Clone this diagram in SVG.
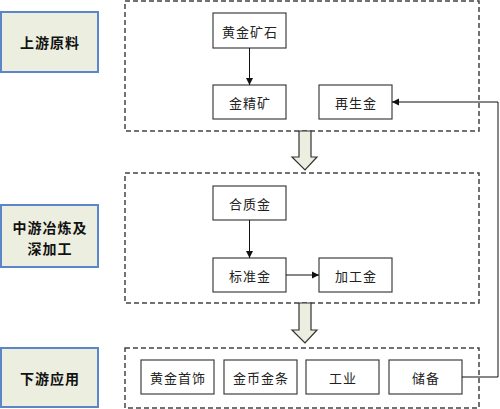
<svg xmlns="http://www.w3.org/2000/svg" width="500" height="409" viewBox="0 0 500 409">
<defs>
<style>
.stage{fill:#ECEEDF;stroke:#5B87C8;stroke-width:2}
.stxt{font-family:"Noto Sans CJK SC","Liberation Sans",sans-serif;font-size:14px;font-weight:bold;fill:#111;text-anchor:middle;dominant-baseline:central;letter-spacing:1px}
.grp{fill:none;stroke:#444;stroke-width:1.5;stroke-dasharray:5 3}
.node{fill:#fff;stroke:#404040;stroke-width:1.2}
.ntxt{font-family:"Noto Sans CJK SC","Liberation Sans",sans-serif;font-size:13px;fill:#222;text-anchor:middle;dominant-baseline:central;letter-spacing:1px}
.con{fill:none;stroke:#111;stroke-width:1}
.big{fill:#ECEEDF;stroke:#333;stroke-width:1.2}
</style>
<marker id="ah" markerWidth="8" markerHeight="8" refX="7" refY="4" orient="auto" markerUnits="userSpaceOnUse">
<path d="M0,0.5 L7,4 L0,7.5 z" fill="#111"/>
</marker>
</defs>
<rect width="500" height="409" fill="#fff"/>

<g id="stage-up"><rect class="stage" x="1" y="12" width="97" height="60"/><text class="stxt" x="50" y="42">上游原料</text></g>
<g id="stage-mid"><rect class="stage" x="1" y="205" width="97" height="62"/><text class="stxt" x="50" y="227">中游冶炼及</text><text class="stxt" x="50" y="248">深加工</text></g>
<g id="stage-down"><rect class="stage" x="1" y="348" width="97" height="59"/><text class="stxt" x="50" y="378">下游应用</text></g>

<g id="group-up"><rect class="grp" x="125" y="1" width="354" height="130"/></g>
<g id="group-mid"><rect class="grp" x="125" y="173" width="354" height="130"/></g>
<g id="group-down"><rect class="grp" x="125" y="348" width="354" height="60"/></g>

<g id="flow1"><path class="big" d="M299,131 H311 V157 H317 L305,170 L292,157 H299 Z"/></g>
<g id="flow2"><path class="big" d="M299,303 H311 V330 H317 L305,343 L292,330 H299 Z"/></g>

<g id="n-ore"><rect class="node" x="213" y="13" width="73" height="35"/><text class="ntxt" x="250" y="31">黄金矿石</text></g>
<g id="n-conc"><rect class="node" x="213" y="85" width="73" height="34"/><text class="ntxt" x="250" y="102">金精矿</text></g>
<g id="n-recyc"><rect class="node" x="319" y="85" width="73" height="34"/><text class="ntxt" x="356" y="102">再生金</text></g>
<g id="n-dore"><rect class="node" x="213" y="186" width="73" height="34"/><text class="ntxt" x="250" y="203">合质金</text></g>
<g id="n-std"><rect class="node" x="213" y="258" width="73" height="34"/><text class="ntxt" x="250" y="275">标准金</text></g>
<g id="n-proc"><rect class="node" x="319" y="258" width="73" height="34"/><text class="ntxt" x="356" y="275">加工金</text></g>
<g id="n-jew"><rect class="node" x="141" y="360" width="73" height="34"/><text class="ntxt" x="178" y="377">黄金首饰</text></g>
<g id="n-coin"><rect class="node" x="224" y="360" width="73" height="34"/><text class="ntxt" x="261" y="377">金币金条</text></g>
<g id="n-ind"><rect class="node" x="306" y="360" width="73" height="34"/><text class="ntxt" x="343" y="377">工业</text></g>
<g id="n-res"><rect class="node" x="389" y="360" width="73" height="34"/><text class="ntxt" x="426" y="377">储备</text></g>

<g id="connectors">
<path class="con" d="M249.5,48 V85" marker-end="url(#ah)"/>
<path class="con" d="M249.5,220 V258" marker-end="url(#ah)"/>
<path class="con" d="M286,275 H319" marker-end="url(#ah)"/>
<path class="con" d="M462,377 H498 V102 H392" marker-end="url(#ah)"/>
</g>
</svg>
